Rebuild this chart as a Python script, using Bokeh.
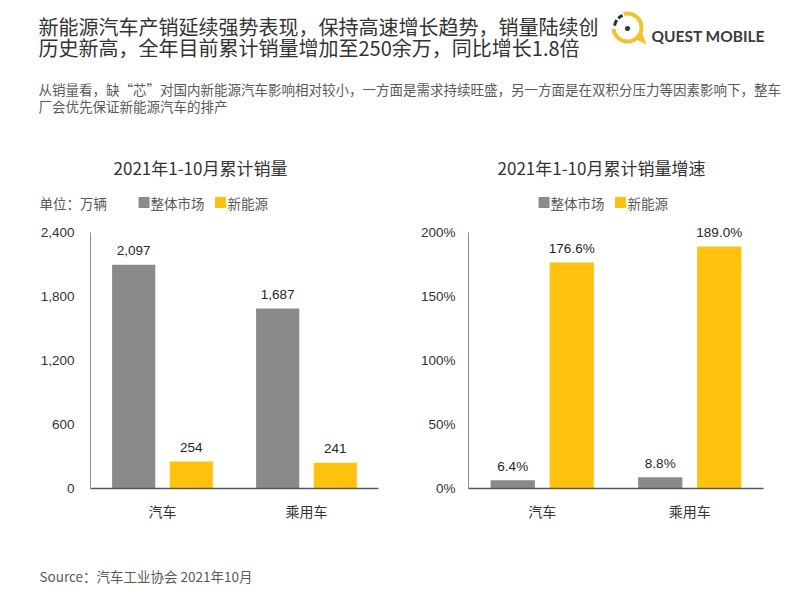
import math
from bokeh.plotting import figure
from bokeh.layouts import column, row
from bokeh.models import (Range1d, FactorRange, FixedTicker, NumeralTickFormatter,
                          PrintfTickFormatter, ColumnDataSource)
from bokeh.transform import dodge
from bokeh.core.properties import value
from bokeh.embed import file_html
from bokeh.resources import INLINE

# ---------------- data ----------------
categories = ["汽车", "乘用车"]
series_names = ["整体市场", "新能源"]
sales_total = [2097, 1687]          # 万辆
sales_nev = [254, 241]
growth_total = [6.4, 8.8]           # %
growth_nev = [176.6, 189.0]
sales_ticks = [0, 600, 1200, 1800, 2400]
growth_ticks = [0, 50, 100, 150, 200]

title_lines = ["新能源汽车产销延续强势表现，保持高速增长趋势，销量陆续创",
               "历史新高，全年目前累计销量增加至250余万，同比增长1.8倍"]
subtitle_lines = ["从销量看，缺“芯”对国内新能源汽车影响相对较小，一方面是需求持续旺盛，另一方面是在双积分压力等因素影响下，整车",
                  "厂会优先保证新能源汽车的排产"]
chart_titles = ["2021年1-10月累计销量", "2021年1-10月累计销量增速"]
unit_label = "单位：万辆"
source_text = "Source：汽车工业协会 2021年10月"
brand = "QUEST MOBILE"

GRAY = "#8a8a8a"
YELLOW = "#FFC20E"
LOGO_Y = "#F2C12E"
CJK = "Noto Sans CJK SC"
NUM = "Liberation Sans"

# ---------------- header (page y 0..215) ----------------
hdr = figure(width=786, height=215, x_range=Range1d(0, 786), y_range=Range1d(215, 0),
             output_backend="svg", toolbar_location=None, x_axis_type=None, y_axis_type=None,
             min_border=0, outline_line_color=None)
hdr.grid.visible = False

hdr.text(x=[38, 38], y=[26, 47], text=title_lines, text_font=value(CJK),
         text_font_size="20px", text_color="#333333", text_baseline="middle")
hdr.text(x=[38, 38], y=[88, 105], text=subtitle_lines, text_font=value(CJK),
         text_font_size="13.5px", text_color="#595959", text_baseline="middle")
hdr.text(x=[200, 601], y=[167, 167], text=chart_titles, text_font=value(CJK),
         text_font_size="17px", text_color="#333333", text_baseline="middle", text_align="center")
hdr.text(x=[39], y=[202], text=[unit_label], text_font=value(CJK),
         text_font_size="13.5px", text_color="#595959", text_baseline="middle")
# legends
hdr.rect(x=[143.5, 543.5], y=[202, 202], width=11, height=11, fill_color=GRAY, line_color=None)
hdr.rect(x=[220, 620], y=[202, 202], width=11, height=11, fill_color=YELLOW, line_color=None)
hdr.text(x=[150, 550, 227, 627], y=[202] * 4,
         text=[series_names[0], series_names[0], series_names[1], series_names[1]],
         text_font=value(CJK), text_font_size="13.5px", text_color="#595959",
         text_baseline="middle")

# logo
cx, cy, r = 627, 27, 14


def arc_pts(a0, a1, rad, n=8):
    xs, ys = [], []
    for i in range(n + 1):
        a = math.radians(a0 + (a1 - a0) * i / n)
        xs.append(cx + rad * math.cos(a))
        ys.append(cy - rad * math.sin(a))
    return xs, ys


hdr.scatter(x=[cx], y=[cy], size=2 * r, fill_color=None, line_color=LOGO_Y, line_width=4)
hdr.patch(x=[634, 646, 641], y=[38, 44, 31], fill_color=LOGO_Y, line_color=None)
gx, gy = arc_pts(105, 185, r)
hdr.line(gx, gy, line_color="white", line_width=6)
for a0, a1 in ((112, 135), (145, 172)):
    dx, dy = arc_pts(a0, a1, r - 1, 4)
    hdr.line(dx, dy, line_color="#333333", line_width=3)
hdr.scatter(x=[cx], y=[cy + 1], size=5, fill_color="#333333", line_color=None)
hdr.text(x=[651], y=[35], text=[brand], text_font=value("Lato"), text_font_style="bold",
         text_font_size="15.5px", text_color="#3a3a3a", text_baseline="middle")

# ---------------- charts (page y 215..528) ----------------
FRAME_TOP, AXIS_TOP, ZERO = 220, 232, 488


def make_chart(width, border_left, border_right, ticks, tick_fmt, totals, nevs,
               labels_t, labels_n, standoff):
    y_end = ticks[-1] * (ZERO - FRAME_TOP) / (ZERO - AXIS_TOP)
    p = figure(width=width, height=313, x_range=FactorRange(*categories),
               y_range=Range1d(0, y_end), output_backend="svg", toolbar_location=None,
               min_border_left=border_left, min_border_right=border_right,
               min_border_top=FRAME_TOP - 215, min_border_bottom=528 - ZERO,
               outline_line_color=None)
    p.grid.visible = False
    src = ColumnDataSource(dict(cat=categories, tot=totals, nev=nevs, lt=labels_t, ln=labels_n))
    p.vbar(x=dodge("cat", -0.2, range=p.x_range), top="tot", width=0.3, source=src,
           fill_color=GRAY, line_color=None)
    p.vbar(x=dodge("cat", 0.2, range=p.x_range), top="nev", width=0.3, source=src,
           fill_color=YELLOW, line_color=None)
    for off, ycol, tcol in ((-0.2, "tot", "lt"), (0.2, "nev", "ln")):
        p.text(x=dodge("cat", off, range=p.x_range), y=ycol, text=tcol, source=src,
               text_align="center", text_baseline="middle", y_offset=-14,
               text_font=value(NUM), text_font_size="13.5px", text_color="#262626")
    ya = p.yaxis[0]
    ya.ticker = FixedTicker(ticks=ticks)
    ya.formatter = tick_fmt
    ya.bounds = (0, ticks[-1])
    ya.major_tick_out = 0
    ya.major_tick_in = 0
    ya.minor_tick_out = 0
    ya.minor_tick_in = 0
    ya.axis_line_color = "#8c8c8c"
    ya.major_label_standoff = standoff
    ya.major_label_text_font = NUM
    ya.major_label_text_font_size = "13.5px"
    ya.major_label_text_color = "#333333"
    xa = p.xaxis[0]
    xa.major_tick_out = 0
    xa.major_tick_in = 0
    xa.axis_line_color = "#5a5a5a"
    xa.axis_line_width = 1.5
    xa.major_label_standoff = 12
    xa.major_label_text_font = CJK
    xa.major_label_text_font_size = "14px"
    xa.major_label_text_color = "#333333"
    return p


left = make_chart(392, 90, 14, sales_ticks, NumeralTickFormatter(format="0,0"),
                  sales_total, sales_nev,
                  [f"{v:,}" for v in sales_total], [f"{v:,}" for v in sales_nev], 16)
right = make_chart(394, 76, 23, growth_ticks, PrintfTickFormatter(format="%d%%"),
                   growth_total, growth_nev,
                   [f"{v:.1f}%" for v in growth_total], [f"{v:.1f}%" for v in growth_nev], 13)

# ---------------- footer (page y 528..586) ----------------
ftr = figure(width=786, height=58, x_range=Range1d(0, 786), y_range=Range1d(586, 528),
             output_backend="svg", toolbar_location=None, x_axis_type=None, y_axis_type=None,
             min_border=0, outline_line_color=None)
ftr.grid.visible = False
ftr.text(x=[39], y=[575], text=[source_text], text_font=value(CJK), text_font_size="13.5px",
         text_color="#595959", text_baseline="middle")

p = column(hdr, row(left, right), ftr)
open("out.html", "w").write(file_html(p, INLINE))
